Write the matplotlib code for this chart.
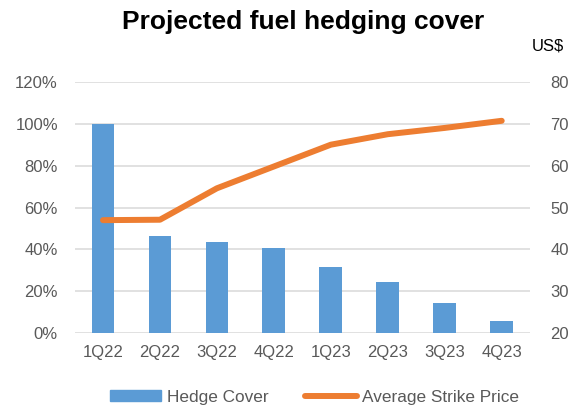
import matplotlib
matplotlib.use("Agg")
import matplotlib.pyplot as plt
from matplotlib.ticker import PercentFormatter
from matplotlib.lines import Line2D
from matplotlib.patches import Patch

plt.rcParams['font.family'] = ['Liberation Sans', 'DejaVu Sans']

quarters = ["1Q22", "2Q22", "3Q22", "4Q22", "1Q23", "2Q23", "3Q23", "4Q23"]
hedge_cover = [100, 46.4, 43.7, 40.5, 31.5, 24.7, 14.3, 5.9]
strike_price = [47.0, 47.1, 54.6, 59.8, 65.0, 67.5, 69.0, 70.7]

BLUE = "#5B9BD5"
ORANGE = "#ED7D31"
GREY = "#595959"

fig = plt.figure(figsize=(5.79, 4.07), dpi=100)
ax = fig.add_axes([0.1287, 0.181, 0.787, 0.618])
ax2 = ax.twinx()

x = range(len(quarters))
ax.bar(x, hedge_cover, width=0.4, color=BLUE, zorder=2)
ax2.plot(x, strike_price, color=ORANGE, lw=4.3, solid_capstyle="round",
         solid_joinstyle="round", zorder=3)

ax.set_xlim(-0.5, len(quarters) - 0.5)
ax.set_ylim(0, 120)
ax.set_yticks(range(0, 121, 20))
ax.yaxis.set_major_formatter(PercentFormatter(decimals=0))
ax2.set_ylim(20, 80)
ax2.set_yticks(range(20, 81, 10))
ax.set_xticks(list(x))
ax.set_xticklabels(quarters)

ax.grid(axis="y", color="#D9D9D9", lw=1.1, zorder=0)
ax.set_axisbelow(True)
for a in (ax, ax2):
    for s in a.spines.values():
        s.set_visible(False)
    a.tick_params(length=0, labelsize=12, colors=GREY)
ax.tick_params(axis="y", pad=11.9)
ax2.tick_params(axis="y", pad=14.4)
ax.tick_params(axis="x", pad=8.6)

fig.text(0.524, 1 - 29 / 407, "Projected fuel hedging cover", ha="center", va="baseline",
         fontsize=19, fontweight="bold", color="black")
fig.text(0.947, 1 - 50.7 / 407, "US$", ha="center", va="baseline", fontsize=12, color="black")

handles = [Patch(color=BLUE), Line2D([0], [0], color=ORANGE, lw=4.3, solid_capstyle="round")]
fig.legend(handles, ["Hedge Cover", "Average Strike Price"], loc="center",
           bbox_to_anchor=(0.543, 0.024), ncol=2, frameon=False, fontsize=12.4,
           handlelength=3.0, handleheight=0.55, columnspacing=2.15, handletextpad=0.3,
           labelcolor=GREY)

fig.savefig("out.png", dpi=100)
